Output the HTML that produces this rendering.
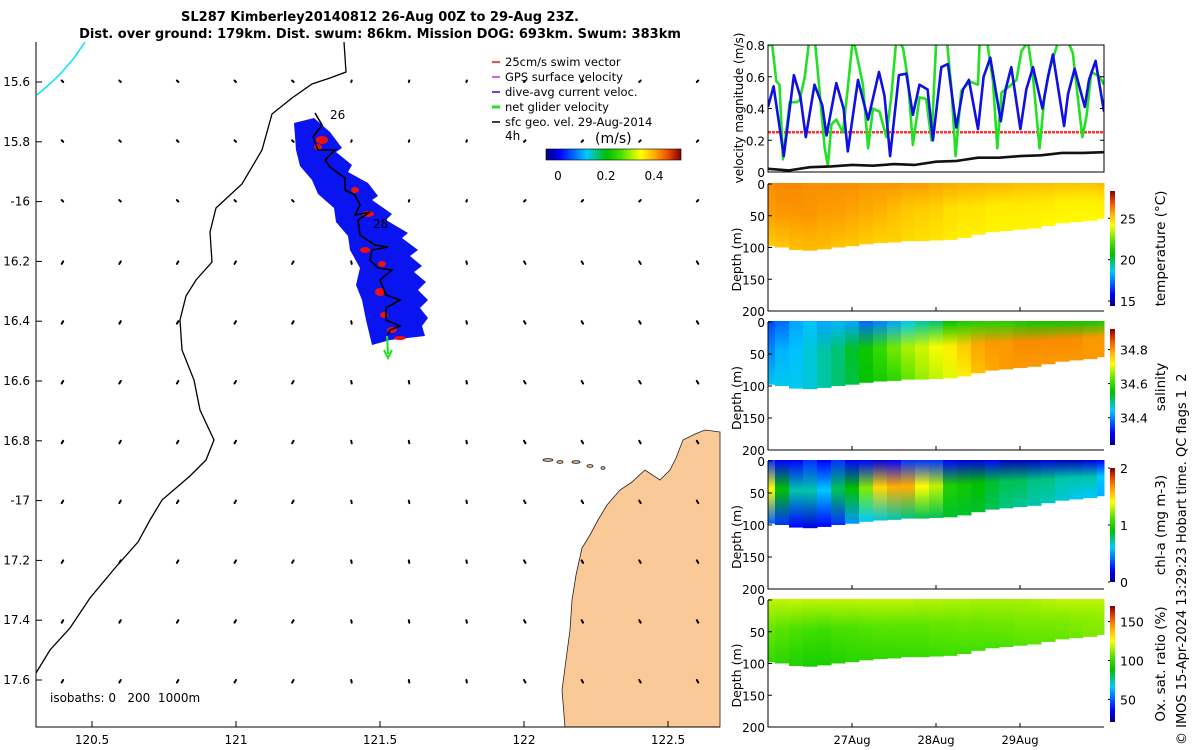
<!DOCTYPE html>
<html><head><meta charset="utf-8">
<style>
html,body{margin:0;padding:0;background:#fff;}
svg{display:block;font-family:"DejaVu Sans","Liberation Sans",sans-serif;}
</style></head>
<body>
<svg id="fig" width="1200" height="750" viewBox="0 0 1200 750" xmlns="http://www.w3.org/2000/svg">
<defs>
<linearGradient id="jetH" x1="0" x2="1" y1="0" y2="0">
<stop offset="0" stop-color="#00007f"/><stop offset="0.1" stop-color="#0000ff"/><stop offset="0.3" stop-color="#00c8ff"/><stop offset="0.45" stop-color="#00c000"/><stop offset="0.55" stop-color="#40e000"/><stop offset="0.7" stop-color="#ffff00"/><stop offset="0.8" stop-color="#ffb000"/><stop offset="0.9" stop-color="#f05000"/><stop offset="1" stop-color="#800000"/>
</linearGradient>
<linearGradient id="jetV" x1="0" x2="0" y1="1" y2="0">
<stop offset="0" stop-color="#00007f"/><stop offset="0.1" stop-color="#0000ff"/><stop offset="0.3" stop-color="#00c8ff"/><stop offset="0.45" stop-color="#00c000"/><stop offset="0.55" stop-color="#40e000"/><stop offset="0.7" stop-color="#ffff00"/><stop offset="0.8" stop-color="#ffb000"/><stop offset="0.9" stop-color="#f05000"/><stop offset="1" stop-color="#800000"/>
</linearGradient>
</defs>
<g font-weight="bold" font-size="13" text-anchor="middle">
<text x="380" y="21">SL287 Kimberley20140812 26-Aug 00Z to 29-Aug 23Z.</text>
<text x="380" y="38">Dist. over ground: 179km. Dist. swum: 86km. Mission DOG: 693km. Swum: 383km</text>
</g>
<g id="map"></g>
<g id="vel"></g>
<g id="sections"></g>
<text transform="translate(1186,745) rotate(-90)" font-size="13" style="white-space:pre">© IMOS 15-Apr-2024 13:29:23 Hobart time. QC flags 1  2</text>
</svg>
<script>
// ---------- data ----------
var lonTicks=[120.5,121,121.5,122,122.5];
var latTicks=[15.6,15.8,16,16.2,16.4,16.6,16.8,17,17.2,17.4,17.6];
var latLabels=["15.6","15.8","-16","16.2","16.4","16.6","16.8","-17","17.2","17.4","17.6"];
var velTicks=[0,0.2,0.4,0.6,0.8];
var blueH=[0,1.6,4.5,7.4,9.3,10.8,13.3,15.5,16.7,19.5,21.6,22.8,25.7,28.6,31.7,33.3,34.9,37.4,39.5,41.4,43.3,45.6,47.1,49.5,51.4,53.8,55.7,57.4,60.0,61.6,63.5,66.5,67.9,69.5,72.1,73.8,75.7,78.4,80.0,81.4,84.6,85.7,87.6,90.5,91.7,93.6,96];
var blueV=[0.41,0.54,0.10,0.61,0.47,0.22,0.55,0.42,0.23,0.56,0.40,0.13,0.58,0.33,0.63,0.48,0.10,0.61,0.62,0.36,0.55,0.52,0.20,0.66,0.68,0.28,0.52,0.58,0.27,0.60,0.72,0.32,0.52,0.66,0.27,0.52,0.66,0.40,0.60,0.74,0.29,0.49,0.65,0.41,0.58,0.70,0.38];
var greenH=[0,1.2,2.4,3.3,4.3,6.2,8.1,9.0,10.5,11.9,13.3,14.3,16.2,17.1,18.1,19.5,21.4,22.8,24.3,25.7,27.1,28.6,30.0,31.9,33.8,35.2,36.7,38.6,40.0,41.4,43.3,45.2,46.7,48.1,51.0,52.4,53.6,55.2,57.6,60.0,60.5,62.4,64.3,65.5,66.7,69.5,71.0,72.4,74.3,75.7,77.6,79.0,80.5,82.9,85.2,87.1,89.8,91.0,92.4,94.8,96];
var greenV=[0.8,0.8,0.57,0.55,0.08,0.44,0.44,0.45,0.6,0.85,0.85,0.62,0.15,0.04,0.3,0.33,0.25,0.53,0.85,0.7,0.55,0.15,0.40,0.38,0.22,0.47,0.85,0.78,0.58,0.17,0.47,0.46,0.20,0.85,0.85,0.53,0.10,0.51,0.57,0.55,0.85,0.85,0.57,0.15,0.50,0.55,0.58,0.76,0.82,0.6,0.15,0.48,0.65,0.82,0.85,0.75,0.22,0.35,0.63,0.6,0.55];
var blackH=[0,6,12,18,24,30,36,42,48,54,60,66,72,78,84,90,96];
var blackV=[0.02,0.01,0.03,0.035,0.045,0.04,0.05,0.045,0.065,0.07,0.09,0.09,0.10,0.105,0.12,0.12,0.125];
var swimSpeed=0.25;
var colH=[0,4,8,12,16,20,24,28,32,36,40,44,48,52,56,60,64,68,72,76,80,84,88,92,96];
var bottomDepth=[98,100,104,105,103,100,98,95,93,92,90,90,89,88,85,80,76,74,72,70,66,62,60,58,55];
var tempSurf=[26.0,26.1,26.1,26.0,26.0,26.0,26.0,25.9,25.9,25.9,25.8,25.8,25.7,25.6,25.5,25.5,25.4,25.4,25.3,25.3,25.3,25.2,25.2,25.2,25.4];
var tempMid=[25.8,25.9,25.9,25.9,25.8,25.8,25.7,25.6,25.5,25.3,25.1,25.0,24.9,24.7,24.6,24.6,24.5,24.5,24.5,24.5,24.5,24.4,24.4,24.4,24.5];
var tempDeep=[25.0,25.1,25.2,25.3,25.3,25.2,25.1,25.0,24.9,24.9,24.8,24.7,24.6,24.5,24.4,24.4,24.3,24.3,24.3,24.3,24.2,24.2,24.2,24.2,24.2];
var salSurf=[34.36,34.38,34.42,34.44,34.42,34.43,34.42,34.38,34.40,34.42,34.45,34.48,34.50,34.55,34.57,34.58,34.58,34.58,34.57,34.56,34.56,34.56,34.56,34.56,34.57];
var salMid=[34.40,34.43,34.44,34.46,34.48,34.50,34.53,34.56,34.60,34.64,34.67,34.69,34.71,34.73,34.76,34.79,34.80,34.80,34.81,34.81,34.81,34.81,34.81,34.80,34.80];
var salDeep=[34.45,34.45,34.45,34.46,34.48,34.50,34.52,34.55,34.57,34.59,34.63,34.66,34.68,34.70,34.73,34.77,34.79,34.80,34.80,34.80,34.80,34.80,34.80,34.80,34.80];
var chlSurf=[0.3,0.2,0.2,0.3,0.2,0.3,0.2,0.2,0.15,0.2,0.3,0.3,0.3,0.2,0.15,0.15,0.2,0.1,0.1,0.1,0.15,0.1,0.1,0.15,0.2];
var chlMid=[1.4,0.9,0.7,0.7,0.6,0.8,0.9,1.2,1.5,1.6,1.6,1.4,1.3,1.0,0.95,0.9,0.85,0.8,0.8,0.75,0.75,0.7,0.7,0.7,0.6];
var chlDeep=[0.4,0.3,0.2,0.15,0.2,0.3,0.5,0.6,0.65,0.7,0.75,0.8,0.8,0.85,0.85,0.85,0.8,0.75,0.72,0.7,0.68,0.65,0.62,0.6,0.55];
var oxSurf=[118,118,119,118,118,118,118,118,118,118,118,117,117,116,116,115,115,115,115,116,117,118,118,118,118];
var oxMid=[108,106,104,103,102,104,104,105,106,106,106,106,107,107,108,108,109,109,110,110,111,111,112,112,113];
var oxDeep=[100,98,96,94,94,96,98,98,99,99,100,100,101,102,102,103,103,104,105,106,106,107,108,110,110];
var depthTicks=[0,50,100,150,200];
var dayTicks=[24,48,72];
var dayLabels=["27Aug","28Aug","29Aug"];

// ---------- helpers ----------
var NS="http://www.w3.org/2000/svg";
function mk(tag,attrs,parent,text){var e=document.createElementNS(NS,tag);for(var k in attrs)e.setAttribute(k,attrs[k]);if(text!==undefined)e.textContent=text;parent.appendChild(e);return e;}
var CM=[[0,0,0,127],[0.1,0,0,255],[0.3,0,200,255],[0.45,0,192,0],[0.55,64,224,0],[0.7,255,255,0],[0.8,255,176,0],[0.9,240,80,0],[1,128,0,0]];
function jet(t){t=Math.max(0,Math.min(1,t));for(var i=1;i<CM.length;i++){if(t<=CM[i][0]){var a=CM[i-1],b=CM[i],f=(t-a[0])/(b[0]-a[0]);
 return "rgb("+Math.round(a[1]+f*(b[1]-a[1]))+","+Math.round(a[2]+f*(b[2]-a[2]))+","+Math.round(a[3]+f*(b[3]-a[3]))+")";}}return "rgb(128,0,0)";}

// ---------- map ----------
var map=document.getElementById('map');
var MX0=36,MX1=720,MY0=42,MY1=727;
function lonX(l){return 92+(l-120.5)*288;}
function latY(l){return 82+(l-15.6)*299;}
var land=mk('path',{d:"M720,432 L705,430 L695,434 L683,440 L676,458 L670,470 L660,480 L645,470 L632,482 L620,490 L607,505 L598,520 L590,535 L582,548 L576,575 L572,600 L570,630 L566,660 L562,690 L565,727 L720,727 Z",fill:"#f9c998",stroke:"#222","stroke-width":"0.8"},map);


[[548,460,5],[560,462,3],[576,462,4],[590,466,3],[603,468,2]].forEach(function(p){var e=mk('ellipse',{cx:p[0],cy:p[1],rx:p[2],ry:1.3,fill:"#f9c998",stroke:"#222","stroke-width":"0.8"},map);
 
 });
var iso=mk('path',{d:"M344,42 L346,72 L330,78 L312,84 L292,98 L272,114 L262,150 L242,184 L216,208 L210,232 L212,262 L196,280 L186,296 L180,320 L182,350 L194,380 L200,410 L214,440 L206,460 L190,476 L162,500 L150,520 L138,542 L115,568 L90,598 L70,628 L50,650 L36,673",fill:"none",stroke:"#000","stroke-width":"1.3"},map);


var cy=mk('path',{d:"M37,95 L52,82 L62,72 L74,58 L85,42",fill:"none",stroke:"#00e5ff","stroke-width":"1.5"},map);


for(var i=0;i<12;i++){for(var j=0;j<11;j++){var x=lonX(120.4+0.2*i),y=latY(15.6+0.2*j);
 var dx=(i<5?-1.5:(i>7?1.5:0.5)),dy=(j<3?-1.5:2.5);
 var v=mk('path',{d:"M"+x+","+y+" l"+dx+","+dy,stroke:"#000","stroke-width":"2","stroke-linecap":"round"},map);
 
 }}
var sw=mk('path',{d:"M294,123 L314,118 L330,132 L342,148 L336,152 L352,165 L348,172 L368,183 L378,196 L372,200 L392,214 L386,220 L408,233 L402,238 L418,250 L410,256 L422,266 L414,272 L426,282 L418,290 L428,300 L420,308 L428,318 L422,326 L425,336 L390,340 L372,345 L366,320 L362,300 L356,285 L360,268 L350,250 L348,236 L336,222 L334,208 L318,194 L312,180 L300,166 L296,150 Z",fill:"#0a14f0"},map);


var redBits=[[322,140,6,4],[318,147,4,3],[355,190,4,3],[368,214,6,3],[365,250,5,3],[382,264,4,3],[380,292,5,4],[384,315,4,3],[392,330,5,3],[400,338,6,2]];
redBits.forEach(function(r){var e=mk('ellipse',{cx:r[0],cy:r[1],rx:r[2],ry:r[3],fill:"#f01010"},map);
 
 });
var tr=mk('path',{d:"M315,113 L322,125 L313,137 L318,150 L335,150 L325,160 L330,167 L345,178 L345,190 L355,195 L360,205 L355,215 L370,212 L358,220 L360,235 L375,245 L388,247 L372,250 L370,260 L378,268 L392,270 L380,280 L386,295 L400,300 L386,308 L386,320 L400,326 L390,330 L388,335",fill:"none",stroke:"#000","stroke-width":"1.6"},map);


var ga=mk('path',{d:"M387,336 L388,354 M384,350 L388,358 L392,350",stroke:"#22dd22","stroke-width":"2",fill:"none"},map);


mk('text',{x:330,y:119,"font-size":"12"},map,"26");
mk('text',{x:373,y:228,"font-size":"12"},map,"28");
var mb=mk('path',{d:"M"+MX0+","+MY0+" L"+MX0+","+MY1+" L"+MX1+","+MY1,fill:"none",stroke:"#000","stroke-width":"1"},map);


lonTicks.forEach(function(l){var x=lonX(l);mk('line',{x1:x,x2:x,y1:MY1,y2:MY1-6,stroke:"#000"},map);
 var t=mk('text',{x:x,y:744,"font-size":"12","text-anchor":"middle"},map,String(l));
 
 });
latTicks.forEach(function(l,k){var y=latY(l);mk('line',{x1:MX0,x2:MX0+6,y1:y,y2:y,stroke:"#000"},map);
 var t=mk('text',{x:30,y:y+4,"font-size":"12","text-anchor":"end"},map,latLabels[k]);
 
 });
mk('text',{x:50,y:702,"font-size":"12",style:"white-space:pre"},map,"isobaths: 0   200  1000m");
var leg=mk('g',{"font-size":"11.5"},map);


[["25cm/s swim vector","#f01010"],["GPS surface velocity","#e020e0"],["dive-avg current veloc.","#1010f0"],["net glider velocity","#22dd22"],["sfc geo. vel. 29-Aug-2014","#000"]].forEach(function(e,k){var y=62+15*k;
 mk('line',{x1:492,x2:500,y1:y,y2:y,stroke:e[1],"stroke-width":(k==3?3:1.5)},leg);
 mk('text',{x:505,y:y+4},leg,e[0]);});
mk('text',{x:505,y:140,"font-size":"12"},map,"4h");
mk('text',{x:595,y:143,"font-size":"14"},map,"(m/s)");
var mcb=mk('rect',{x:546,y:149,width:135,height:11,fill:"url(#jetH)",stroke:"#000","stroke-width":"0.6"},map);


[["0",558],["0.2",606],["0.4",654]].forEach(function(t){mk('text',{x:t[1],y:180,"font-size":"12","text-anchor":"middle"},map,t[0]);});

// ---------- velocity panel ----------
var vel=document.getElementById('vel');
var PX0=768,PX1=1104;
function hx(h){return PX0+h*(PX1-PX0)/96;}
function vy(v){return 172-v*(127/0.8);}
var clip=mk('clipPath',{id:"vclip"},vel);mk('rect',{x:PX0,y:45,width:PX1-PX0,height:127},clip);
var vg=mk('g',{"clip-path":"url(#vclip)"},vel);
function line(xs,ys,col,w,name,dash){var d=xs.map(function(x,k){return (k?"L":"M")+x.toFixed(1)+","+ys[k].toFixed(1);}).join(" ");
 var p=mk('path',{d:d,fill:"none",stroke:col,"stroke-width":w,"stroke-linejoin":"round"},vg);
 if(dash)p.setAttribute('stroke-dasharray',dash);
 
 }
line([hx(0),hx(96)],[vy(swimSpeed),vy(swimSpeed)],"#ff3030",2.5,"swim-speed-line","3,1");
line(greenH.map(hx),greenV.map(vy),"#22e022",2.6,"net-glider-speed-line");
line(blueH.map(hx),blueV.map(vy),"#1010e0",2.6,"dive-avg-current-line");
line(blackH.map(hx),blackV.map(vy),"#111",2.6,"geo-velocity-line");
mk('rect',{x:PX0,y:45,width:PX1-PX0,height:127,fill:"none",stroke:"#000","stroke-width":"1"},vel);
velTicks.forEach(function(v){var y=vy(v);mk('line',{x1:PX0,x2:PX0+4,y1:y,y2:y,stroke:"#000"},vel);mk('line',{x1:PX1,x2:PX1-4,y1:y,y2:y,stroke:"#000"},vel);
 var t=mk('text',{x:765,y:y+5,"font-size":"12","text-anchor":"end"},vel,String(v));
 
 });
mk('text',{transform:"translate(743,108) rotate(-90)","font-size":"12","text-anchor":"middle"},vel,"velocity magnitude (m/s)");

// ---------- sections ----------
var sec=document.getElementById('sections');
var panels=[
 {top:184,bot:311,name:"temperature",label:"temperature (°C)",vmin:14.4,vmax:28.3,s:tempSurf,m:tempMid,d:tempDeep,cb:[191,306],ticks:[[25,"25"],[20,"20"],[15,"15"]]},
 {top:322,bot:450,name:"salinity",label:"salinity",vmin:34.24,vmax:34.92,s:salSurf,m:salMid,d:salDeep,cb:[329,445],ticks:[[34.8,"34.8"],[34.6,"34.6"],[34.4,"34.4"]]},
 {top:461,bot:589,name:"chlorophyll",label:"chl-a (mg m-3)",vmin:0,vmax:2,s:chlSurf,m:chlMid,d:chlDeep,cb:[468,582],ticks:[[2,"2"],[1,"1"],[0,"0"]]},
 {top:600,bot:727,name:"oxygen",label:"Ox. sat. ratio (%)",vmin:21,vmax:170,s:oxSurf,m:oxMid,d:oxDeep,cb:[606,722],ticks:[[150,"150"],[100,"100"],[50,"50"]]}
];
panels.forEach(function(P,pi){
 var g=mk('g',{},sec);
 
 
 function dy(d){return P.top+d*(P.bot-P.top)/200;}
 function tn(v){return (v-P.vmin)/(P.vmax-P.vmin);}
 for(var k=0;k<colH.length;k++){
  var h0=Math.max(0,colH[k]-2),h1=Math.min(96,colH[k]+2);
  var gid="g"+pi+"_"+k;
  var lg=mk('linearGradient',{id:gid,x1:"0",x2:"0",y1:"0",y2:"1"},g);
  mk('stop',{offset:"0","stop-color":jet(tn(P.s[k]))},lg);
  mk('stop',{offset:"0.45","stop-color":jet(tn(P.m[k]))},lg);
  mk('stop',{offset:"1","stop-color":jet(tn(P.d[k]))},lg);
  var c=mk('rect',{x:hx(h0),y:dy(0)-1,width:hx(h1)-hx(h0)+0.5,height:dy(bottomDepth[k])-dy(0)+1,fill:"url(#"+gid+")"},g);
  
  
 }
 mk('path',{d:"M"+PX0+","+P.top+" L"+PX0+","+P.bot+" L"+PX1+","+P.bot,fill:"none",stroke:"#000","stroke-width":"1"},g);
 depthTicks.forEach(function(d){var y=dy(d);mk('line',{x1:PX0,x2:PX0+4,y1:y,y2:y,stroke:"#000"},g);
  var t=mk('text',{x:765,y:y+5,"font-size":"12","text-anchor":"end"},g,String(d));
  
  });
 mk('text',{transform:"translate(741,"+((P.top+P.bot)/2+12)+") rotate(-90)","font-size":"12.5","text-anchor":"middle"},g,"Depth (m)");
 dayTicks.forEach(function(h){mk('line',{x1:hx(h),x2:hx(h),y1:P.bot,y2:P.bot-4,stroke:"#000"},g);});
 var cb=mk('rect',{x:1110,y:P.cb[0],width:5,height:P.cb[1]-P.cb[0],fill:"url(#jetV)"},g);
 
 
 P.ticks.forEach(function(t){var y=P.cb[1]-tn(t[0])*(P.cb[1]-P.cb[0]);
  mk('line',{x1:1108,x2:1110,y1:y,y2:y,stroke:"#000"},g);
  mk('text',{x:1120,y:y+5,"font-size":"12.5"},g,t[1]);});
 mk('text',{transform:"translate(1165,"+((P.cb[0]+P.cb[1])/2)+") rotate(-90)","font-size":"13.5","text-anchor":"middle"},g,P.label);
});
dayTicks.forEach(function(h,k){var t=mk('text',{x:hx(h),y:744,"font-size":"11.5","text-anchor":"middle"},sec,dayLabels[k]);
 
 });
</script>
</body></html>
